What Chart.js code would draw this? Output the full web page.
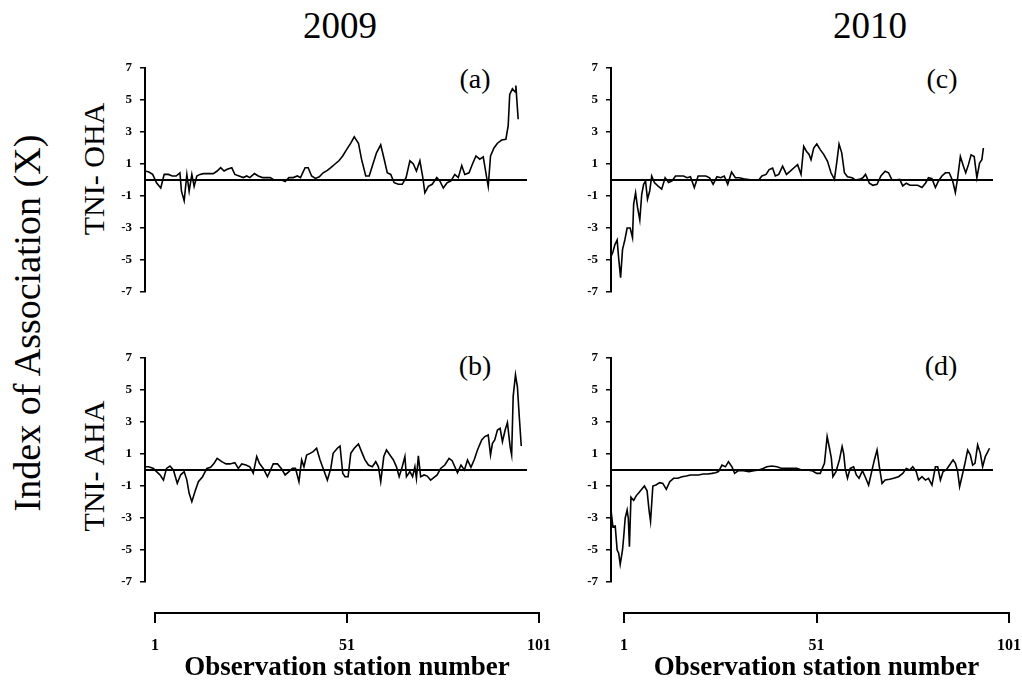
<!DOCTYPE html>
<html>
<head>
<meta charset="utf-8">
<script src="https://cdn.jsdelivr.net/npm/chart.js@4.4.1/dist/chart.umd.min.js"></script>
<style>
  body { margin: 0; background: #fff; }
  #wrap { position: relative; width: 1022px; height: 684px; overflow: hidden; font-family: "Liberation Serif", "Times New Roman", serif; color: #000; }
  canvas { position: absolute; }
  .txt { position: absolute; white-space: nowrap; line-height: 1; transform: translate(-50%, -50%); }
  .rot { transform: translate(-50%, -50%) rotate(-90deg); }
</style>
</head>
<body>
<div id="wrap">
  <div class="txt" style="left:340px;top:25px;font-size:37px">2009</div>
  <div class="txt" style="left:870px;top:25px;font-size:37px">2010</div>
  <div class="txt" style="left:475px;top:79px;font-size:28px">(a)</div>
  <div class="txt" style="left:942px;top:79px;font-size:28px">(c)</div>
  <div class="txt" style="left:475px;top:366px;font-size:28px">(b)</div>
  <div class="txt" style="left:941px;top:366px;font-size:28px">(d)</div>
  <div class="txt rot" style="left:27px;top:323px;font-size:38px">Index of Association (X)</div>
  <div class="txt rot" style="left:94px;top:169px;font-size:30px">TNI- OHA</div>
  <div class="txt rot" style="left:94px;top:466px;font-size:30px">TNI- AHA</div>

  <canvas id="panel-a" width="441" height="250" style="left:99px;top:55px"></canvas>
  <canvas id="panel-c" width="441" height="250" style="left:565px;top:55px"></canvas>
  <canvas id="panel-b" width="441" height="250" style="left:99px;top:345px"></canvas>
  <canvas id="panel-d" width="441" height="250" style="left:565px;top:345px"></canvas>
  <canvas id="axis-2009" width="480" height="94" style="left:100px;top:590px"></canvas>
  <canvas id="axis-2010" width="452" height="94" style="left:570px;top:590px"></canvas>
</div>

<script>
// index of association per observation station
var yTicks = [-7, -5, -3, -1, 1, 3, 5, 7];
var stationTicks = [1, 51, 101];
var xMin = 1, xMax = 100.5;

// (a) 2009 TNI- OHA
var stationsA = [1.0,2.0,3.0,4.0,5.1,6.0,7.1,8.1,9.1,10.1,
  10.5,11.2,11.9,12.5,13.2,13.8,14.5,15.3,16.2,17.5,
  18.8,19.8,20.7,21.6,22.4,23.6,24.4,25.5,26.6,27.5,
  28.3,29.5,30.5,31.6,32.5,33.6,34.6,35.5,36.6,37.5,
  38.5,39.6,40.7,41.5,42.7,43.5,44.4,45.4,46.4,47.4,
  48.5,49.4,50.5,51.5,52.5,53.5,54.6,55.5,56.6,57.4,
  58.5,59.4,60.5,61.3,62.4,63.3,64.1,65.0,65.9,67.0,
  68.0,69.0,70.0,70.9,71.7,72.6,73.3,73.9,74.8,75.8,
  77.0,77.8,78.7,79.7,80.7,81.7,82.6,83.5,84.3,85.4,
  86.3,87.2,88.2,89.1,90.0,90.4,91.0,91.9,92.8,93.9,
  95.0,95.6,96.0,96.7,97.4,97.6,98.2];
var valuesA = [0.56,0.5,0.35,-0.17,-0.5,0.35,0.35,0.25,0.25,0.45,
  -0.7,-1.3,0.35,-0.7,0.35,-0.4,0.25,0.35,0.4,0.4,
  0.4,0.56,0.77,0.56,0.67,0.77,0.35,0.25,0.15,0.25,
  0.15,0.4,0.25,0.15,0.15,0.15,0,0,0,-0.1,
  0.15,0.15,0.25,0.15,0.77,0.77,0.25,0.1,0.2,0.45,
  0.6,0.77,1.0,1.2,1.5,1.9,2.3,2.7,2.3,1.3,
  0.25,0.25,1.1,1.7,2.2,1.3,0.45,0.35,-0.17,-0.27,
  -0.27,0.15,1.2,1.0,0.56,1.2,0.25,-0.8,-0.4,-0.27,
  0.15,-0.06,-0.5,-0.17,-0.06,0.35,0.15,0.9,0.35,0.45,
  1.0,1.5,1.3,1.45,0.15,-0.4,1.5,2.0,2.3,2.5,
  2.55,3.4,5.35,5.7,5.5,5.9,3.8];

// (b) 2009 TNI- AHA
var stationsB = [1.0,2.0,3.2,4.0,4.9,5.8,6.6,7.5,8.4,9.4,
  10.3,11.2,11.9,12.5,13.2,14.0,14.9,16.0,17.1,18.1,
  19.0,19.8,21.0,22.1,23.1,24.4,25.3,26.2,27.3,28.3,
  29.2,30.1,30.8,31.8,32.9,33.7,34.4,35.5,36.5,37.5,
  38.5,39.4,40.2,41.1,41.8,42.4,43.1,44.0,44.8,45.7,
  46.6,47.4,48.5,49.4,50.0,51.1,51.8,52.5,53.1,53.9,
  54.6,55.5,56.6,57.4,58.3,59.2,60.2,61.1,61.8,62.4,
  63.2,63.9,64.8,65.7,66.5,67.2,68.0,68.7,69.1,70.0,
  70.7,71.3,71.7,72.2,72.8,73.7,74.5,75.4,76.3,77.1,
  78.0,79.1,80.2,81.0,81.7,82.4,83.3,84.2,85.0,85.9,
  86.8,87.6,88.7,89.5,90.4,91.0,91.5,92.1,92.8,93.5,
  94.1,94.8,95.4,96.1,96.5,96.9,97.5,98.0,98.5,99.0];
var valuesB = [0.2,0.2,0.1,-0.1,-0.3,-0.63,0.1,0.25,0,-0.83,
  -0.3,-0.1,-0.63,-1.46,-1.98,-1.36,-0.73,-0.42,0.1,0.17,
  0.42,0.73,0.52,0.38,0.38,0.46,0.1,0.38,0.31,0.2,
  -0.2,0.84,0.42,0.1,-0.42,0,0.38,0.38,0.1,-0.31,
  -0.1,0.1,0.1,-0.73,0.63,0.2,0.94,1.04,1.15,1.36,
  0.63,0.1,-0.63,0.1,1.04,1.36,1.5,-0.2,-0.42,-0.42,
  1.04,1.36,1.63,1.15,0.63,0.31,0.2,0.52,0.2,-0.73,
  0.84,1.25,0.94,0.63,0.2,-0.42,0.2,0.84,-0.42,-0.1,
  -0.42,0.2,-0.52,0.88,-0.42,-0.31,-0.38,-0.63,-0.46,-0.31,
  0.1,0.31,0.73,0.58,0.2,-0.17,0.31,0,0.63,0.17,
  0.67,1.25,1.88,2.09,2.19,0.94,1.67,1.88,2.5,2.6,
  1.77,2.5,2.96,1.46,0.94,4.6,5.95,5.2,3.3,1.5];

// (c) 2010 TNI- OHA
var stationsC = [1.0,1.5,2.0,2.6,3.0,3.5,4.0,4.6,5.2,6.0,
  6.6,6.9,7.4,7.9,8.5,9.0,9.5,10.0,10.5,11.1,
  11.6,12.3,13.2,14.2,15.1,16.0,16.9,17.8,18.8,19.9,
  20.8,21.7,22.7,23.7,24.7,25.7,26.7,27.6,28.6,29.6,
  30.5,31.4,32.4,33.4,34.4,35.5,37.7,39.5,40.3,41.4,
  42.2,43.1,43.8,44.7,45.7,46.7,47.7,48.6,49.6,50.5,
  51.2,51.9,52.6,53.1,53.8,54.6,55.5,56.4,57.4,58.3,
  59.2,59.9,60.4,61.1,61.8,62.6,63.8,64.6,65.7,66.6,
  67.3,68.3,69.2,70.3,71.3,72.4,73.3,74.2,75.2,76.2,
  77.0,77.9,78.9,79.8,80.9,82.0,82.9,83.7,84.6,85.5,
  86.3,87.2,88.1,89.1,90.0,90.7,91.3,92.0,92.8,93.4,
  94.1,94.8,95.6,96.3,97.0,97.6,98.0];
var valuesC = [-4.8,-4.5,-4.05,-3.75,-4.9,-6.1,-4.35,-3.75,-3.0,-3.0,
  -3.6,-1.5,-0.8,-1.7,-2.5,-0.9,-0.27,-0.06,-1.2,-0.67,
  0.25,-0.16,-0.37,-0.57,0.14,-0.16,-0.06,0.25,0.25,0.25,
  0.14,0.2,-0.47,0.25,0.25,0.25,0.14,-0.27,0.2,0.14,
  0.25,-0.27,0.5,0.14,0.14,0.08,0,0,0.25,0.35,
  0.65,0.75,0.25,0.35,0.86,0.35,0.55,0.75,0.96,0.35,
  2.1,1.8,1.6,1.27,2.0,2.25,1.9,1.6,1.17,0.45,
  0.04,1.27,2.25,1.7,0.45,0.2,0.14,0,0.04,0.14,
  0.35,-0.2,-0.33,-0.27,0.25,0.55,0.45,0,0,0.04,
  -0.37,-0.2,-0.33,-0.33,-0.33,-0.47,-0.2,0.14,0.08,-0.47,
  -0.06,0.25,0.45,0.45,-0.06,-0.78,0.14,1.47,0.86,0.45,
  0.96,1.57,1.47,0.14,1.06,1.27,2.0];

// (d) 2010 TNI- AHA
var stationsD = [1.0,1.5,2.1,2.6,3.0,3.4,4.0,4.3,4.7,5.2,
  5.5,5.8,6.2,6.9,7.6,8.3,9.0,9.7,10.4,10.9,
  11.3,11.9,12.7,13.7,14.5,15.4,16.3,17.3,18.4,19.5,
  20.6,21.7,22.7,23.8,25.0,26.2,27.3,28.2,29.0,29.9,
  30.8,31.6,32.5,33.2,34.2,35.5,36.9,38.2,39.5,40.6,
  41.6,42.9,44.2,45.5,46.8,48.1,49.4,50.7,52.0,53.3,
  54.6,55.5,56.6,57.3,58.0,58.4,58.8,59.6,60.5,61.2,
  61.6,62.0,62.6,63.3,64.2,64.9,65.6,66.5,67.2,68.1,
  68.8,69.6,70.3,70.9,71.6,72.4,73.6,74.6,75.9,77.0,
  77.9,78.8,79.6,80.5,81.1,82.0,82.9,83.7,84.6,85.5,
  86.1,86.8,87.5,88.3,89.2,90.1,90.7,91.3,91.8,92.4,
  93.1,93.9,94.6,95.2,95.8,96.5,97.2,97.8,98.5,99.6];
var valuesD = [-2.5,-3.55,-3.5,-5.0,-5.2,-5.9,-5.0,-4.2,-3.0,-2.5,
  -3.0,-4.8,-1.7,-1.9,-1.6,-1.4,-1.2,-1.0,-1.3,-2.5,
  -3.2,-1.0,-0.94,-0.79,-0.84,-1.21,-0.73,-0.52,-0.52,-0.42,
  -0.38,-0.31,-0.31,-0.31,-0.25,-0.25,-0.21,-0.17,-0.1,0.31,
  0.2,0.52,0.2,-0.21,-0.04,-0.04,-0.1,-0.04,0,0.1,
  0.2,0.25,0.2,0.1,0.1,0.1,0.1,0,0,-0.04,
  -0.21,-0.21,0.42,2.09,1.25,0.73,-0.42,-0.1,0.63,1.46,
  1.04,0.1,-0.52,0.1,0.2,-0.31,-0.52,-0.04,-0.42,-0.94,
  -0.21,0.63,1.25,0.2,-0.84,-0.63,-0.58,-0.52,-0.42,-0.21,
  0.1,0,0.2,-0.1,-0.63,-0.42,-0.63,-0.52,-0.94,0.2,
  0.2,-0.63,-0.1,0,0.31,0.63,0.42,-0.1,-1.04,-0.42,
  0.31,1.25,0.94,0.31,0.42,1.57,1.04,0.2,0.84,1.36];

var serif = "Liberation Serif";

function panelChart(id, stations, values) {
  var points = stations.map(function (s, i) { return { x: s, y: values[i] }; });
  return new Chart(document.getElementById(id), {
    type: "line",
    data: {
      datasets: [
        { data: points, borderColor: "#000", borderWidth: 1.6, pointRadius: 0, tension: 0 },
        // zero reference line
        { data: [{ x: xMin, y: 0 }, { x: xMax, y: 0 }], borderColor: "#000", borderWidth: 2, pointRadius: 0 }
      ]
    },
    options: {
      responsive: false,
      animation: false,
      layout: { padding: { top: 13, right: 13, bottom: 13, left: 0 } },
      plugins: { legend: { display: false }, tooltip: { enabled: false } },
      scales: {
        x: { type: "linear", min: xMin, max: xMax, display: false },
        y: {
          min: -7, max: 7,
          afterBuildTicks: function (s) { s.ticks = yTicks.map(function (v) { return { value: v }; }); },
          afterFit: function (s) { s.width = 46; s.paddingTop = 0; s.paddingBottom = 0; },
          border: { color: "#000", width: 2 },
          grid: { drawOnChartArea: false, color: "#000", lineWidth: 1.5, tickLength: 5 },
          ticks: { color: "#000", padding: 8, font: { family: serif, size: 13, weight: "bold" } }
        }
      }
    }
  });
}

function stationAxis(id, padLeft, padRight) {
  return new Chart(document.getElementById(id), {
    type: "line",
    data: { datasets: [{ data: [] }] },
    options: {
      responsive: false,
      animation: false,
      layout: { padding: { top: 23, right: padRight, bottom: 0, left: padLeft } },
      plugins: { legend: { display: false }, tooltip: { enabled: false } },
      scales: {
        x: {
          type: "linear", min: 1, max: 101, position: "bottom",
          afterBuildTicks: function (s) { s.ticks = stationTicks.map(function (v) { return { value: v }; }); },
          afterFit: function (s) { s.height = 71; s.paddingLeft = 0; s.paddingRight = 0; },
          border: { color: "#000", width: 2 },
          grid: { drawOnChartArea: false, color: "#000", lineWidth: 2, tickLength: 10 },
          ticks: { color: "#000", padding: 13, maxRotation: 0, autoSkip: false, font: { family: serif, size: 16, weight: "bold" } },
          title: { display: true, text: "Observation station number", color: "#000", padding: 0,
                   font: { family: serif, size: 27, weight: "bold" } }
        },
        y: { display: false }
      }
    }
  });
}

panelChart("panel-a", stationsA, valuesA);
panelChart("panel-b", stationsB, valuesB);
panelChart("panel-c", stationsC, valuesC);
panelChart("panel-d", stationsD, valuesD);
stationAxis("axis-2009", 55, 41);
stationAxis("axis-2010", 54, 13);
</script>
</body>
</html>
